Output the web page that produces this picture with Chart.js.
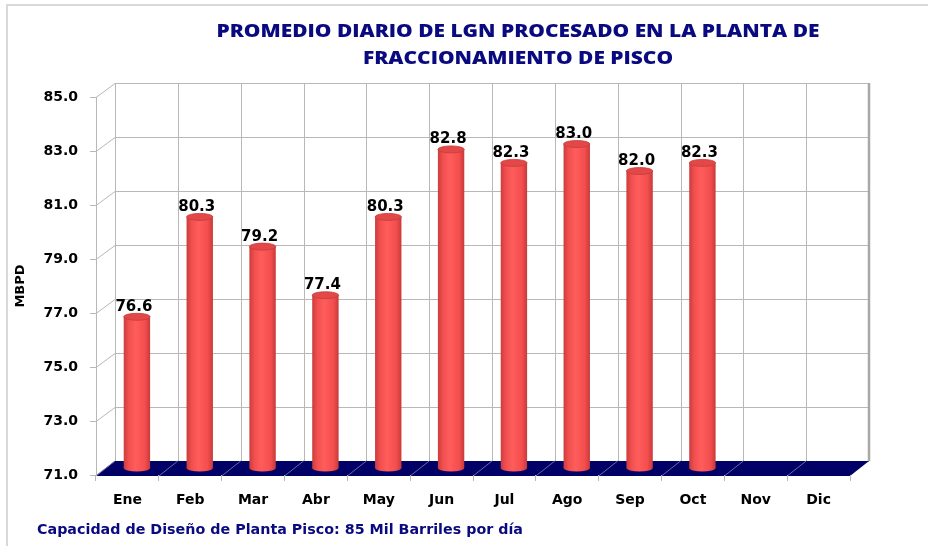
<!DOCTYPE html>
<html>
<head>
<meta charset="utf-8">
<script src="https://cdn.jsdelivr.net/npm/chart.js@4/dist/chart.umd.min.js"></script>
<style>
  html, body { margin: 0; padding: 0; background: #fff; }
  #wrap { width: 928px; height: 546px; }
</style>
</head>
<body>
<div id="wrap"><canvas id="chart" width="928" height="546"></canvas></div>
<script>
const months = ['Ene', 'Feb', 'Mar', 'Abr', 'May', 'Jun', 'Jul', 'Ago', 'Sep', 'Oct', 'Nov', 'Dic']
const promedio = [76.6, 80.3, 79.2, 77.4, 80.3, 82.8, 82.3, 83.0, 82.0, 82.3, null, null]
const titleLines = ['PROMEDIO DIARIO DE LGN PROCESADO EN LA PLANTA DE', 'FRACCIONAMIENTO DE PISCO']
const footerText = 'Capacidad de Diseño de Planta Pisco: 85 Mil Barriles por día'

// depth of the fake 3d box, in px
const depth = { dx: 19, dy: -14 }
const navy = '#0a0a80'
const gridColor = '#b8b8b8'

// draws text squeezed/stretched to a given width
function fitText(ctx, text, cx, cy, width) {
  let w = ctx.measureText(text).width
  ctx.save()
  ctx.translate(cx, cy)
  ctx.scale(width / w, 1)
  ctx.fillText(text, 0, 0)
  ctx.restore()
}

const box3d = {
  id: 'box3d',
  beforeDraw(chart) {
    const { ctx, chartArea: a, scales } = chart
    const y = scales.y, x = scales.x
    ctx.save()
    ctx.fillStyle = '#fff'
    ctx.fillRect(0, 0, chart.width, chart.height)

    // outer frame
    ctx.strokeStyle = '#d9d9d9'
    ctx.lineWidth = 2
    ctx.beginPath()
    ctx.moveTo(7, 546)
    ctx.lineTo(7, 5)
    ctx.lineTo(928, 5)
    ctx.stroke()

    ctx.strokeStyle = gridColor
    ctx.lineWidth = 1
    let colW = (a.right - a.left) / months.length
    // back wall verticals
    for (let i = 0; i <= months.length; i++) {
      let bx = Math.round(x.getPixelForValue(i) - colW / 2 + depth.dx) + 0.5
      ctx.beginPath()
      ctx.moveTo(bx, y.getPixelForValue(y.max) + depth.dy)
      ctx.lineTo(bx, y.getPixelForValue(y.min) + depth.dy)
      ctx.stroke()
    }
    // back wall horizontals + side wall diagonals
    y.ticks.forEach(t => {
      let py = Math.round(y.getPixelForValue(t.value)) + 0.5
      ctx.beginPath()
      ctx.moveTo(a.left, py)
      ctx.lineTo(a.left + depth.dx, py + depth.dy)
      ctx.lineTo(a.right + depth.dx, py + depth.dy)
      ctx.stroke()
    })
    // right edge of the back wall
    ctx.strokeStyle = '#a8a8a8'
    ctx.lineWidth = 2.5
    ctx.beginPath()
    ctx.moveTo(a.right + depth.dx, y.getPixelForValue(y.max) + depth.dy)
    ctx.lineTo(a.right + depth.dx, y.getPixelForValue(y.min) + depth.dy)
    ctx.stroke()

    // floor
    let fb = y.getPixelForValue(y.min)
    ctx.fillStyle = '#000066'
    ctx.beginPath()
    ctx.moveTo(a.left, fb + 1)
    ctx.lineTo(a.right, fb + 1)
    ctx.lineTo(a.right + depth.dx, fb + depth.dy)
    ctx.lineTo(a.left + depth.dx, fb + depth.dy)
    ctx.closePath()
    ctx.fill()
    ctx.strokeStyle = '#6a6a9a'
    ctx.lineWidth = 1
    for (let i = 0; i < months.length; i++) {
      let bx = x.getPixelForValue(i) - colW / 2
      ctx.beginPath()
      ctx.moveTo(bx, fb + 1)
      ctx.lineTo(bx + depth.dx, fb + depth.dy)
      ctx.stroke()
    }

    // title
    ctx.fillStyle = navy
    ctx.textAlign = 'center'
    ctx.textBaseline = 'middle'
    ctx.font = '800 18px "Open Sans"'
    let sx = 603 / ctx.measureText(titleLines[0]).width
    titleLines.forEach((line, i) => {
      fitText(ctx, line, 518, 32 + i * 27, ctx.measureText(line).width * sx)
    })

    // footer
    ctx.textAlign = 'left'
    ctx.font = 'bold 14px "DejaVu Sans"'
    ctx.save()
    ctx.translate(37, 530)
    ctx.scale(486 / ctx.measureText(footerText).width, 1)
    ctx.fillText(footerText, 0, 0)
    ctx.restore()
    ctx.restore()
  },
  afterDatasetsDraw(chart) {
    const { ctx } = chart
    const y = chart.scales.y
    const meta = chart.getDatasetMeta(0)
    ctx.save()
    meta.data.forEach((bar, i) => {
      if (promedio[i] == null) return
      let cx = bar.x + depth.dx / 2
      let top = bar.y + depth.dy / 2
      let bottom = y.getPixelForValue(y.min) + depth.dy / 2
      let rx = bar.width / 2
      let ry = 3.5

      let grad = ctx.createLinearGradient(cx - rx, 0, cx + rx, 0)
      grad.addColorStop(0, '#cc3c3c')
      grad.addColorStop(0.2, '#f25050')
      grad.addColorStop(0.45, '#ff5c5c')
      grad.addColorStop(0.8, '#f44e4e')
      grad.addColorStop(1, '#c83a3a')
      ctx.fillStyle = grad
      ctx.beginPath()
      ctx.moveTo(cx - rx, top)
      ctx.lineTo(cx - rx, bottom)
      ctx.ellipse(cx, bottom, rx, ry, 0, Math.PI, 0, true)
      ctx.lineTo(cx + rx, top)
      ctx.closePath()
      ctx.fill()

      ctx.fillStyle = '#e24848'
      ctx.beginPath()
      ctx.ellipse(cx, top, rx, ry, 0, 0, Math.PI * 2)
      ctx.fill()
      ctx.strokeStyle = '#c83a3a'
      ctx.lineWidth = 0.8
      ctx.stroke()

      // value label
      ctx.fillStyle = '#000'
      ctx.font = 'bold 15px "DejaVu Sans"'
      ctx.textAlign = 'center'
      ctx.textBaseline = 'alphabetic'
      ctx.fillText(promedio[i].toFixed(1), cx - 3, top - 6)
    })
    ctx.restore()
  }
}

new Chart(document.getElementById('chart'), {
  type: 'bar',
  data: {
    labels: months,
    datasets: [{
      data: promedio,
      backgroundColor: 'rgba(0,0,0,0)',
      borderWidth: 0,
      base: 71,
      categoryPercentage: 1,
      barPercentage: 0.42
    }]
  },
  options: {
    responsive: false,
    animation: false,
    layout: { padding: { top: 97, right: 78, left: 0, bottom: 0 } },
    plugins: {
      legend: { display: false },
      tooltip: { enabled: false }
    },
    scales: {
      y: {
        min: 71,
        max: 85,
        ticks: {
          stepSize: 2,
          color: '#000',
          padding: 12,
          font: { family: 'DejaVu Sans', weight: 'bold', size: 14 },
          callback: v => v.toFixed(1)
        },
        grid: { drawOnChartArea: false, tickLength: 6, color: gridColor },
        border: { color: gridColor },
        title: {
          display: true,
          text: 'MBPD',
          color: '#000',
          padding: { top: 13, bottom: 0 },
          font: { family: 'DejaVu Sans', weight: 'bold', size: 13 }
        },
        afterFit(scale) { scale.width = 96 }
      },
      x: {
        ticks: {
          color: '#000',
          padding: 11,
          font: { family: 'DejaVu Sans', weight: 'bold', size: 14 }
        },
        grid: { drawOnChartArea: false, tickLength: 6, color: gridColor, offset: true },
        border: { display: false },
        afterFit(scale) { scale.height = 71 }
      }
    }
  },
  plugins: [box3d]
})
</script>
</body>
</html>
